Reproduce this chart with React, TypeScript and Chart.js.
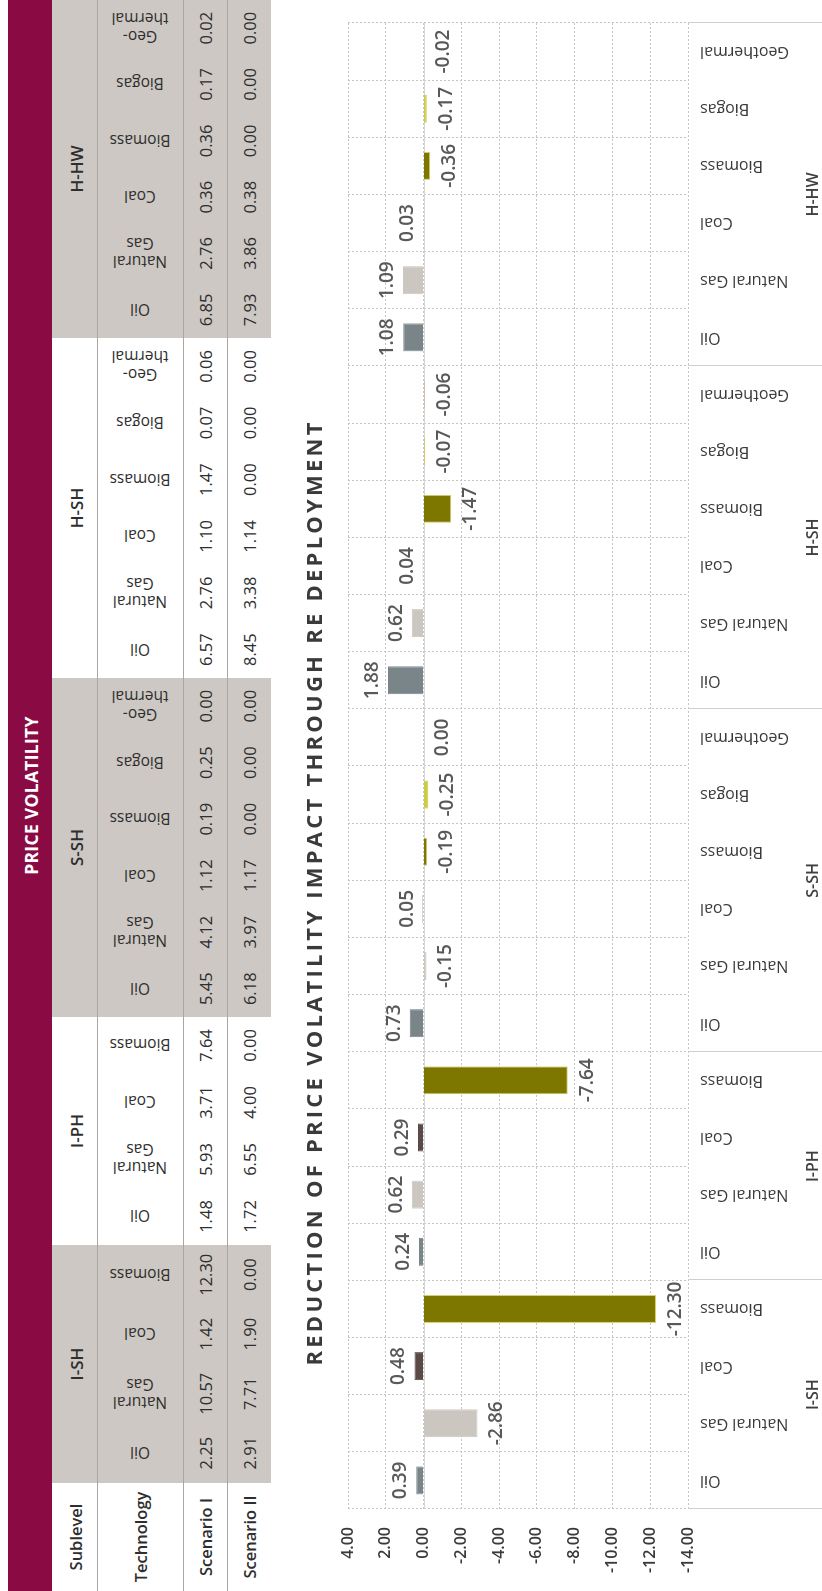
import React, { useEffect, useRef } from "react";
import { Chart, registerables } from "chart.js";

Chart.register(...registerables);

// ---------------- DATA ----------------
const sublevels = ["I-SH", "I-PH", "S-SH", "H-SH", "H-HW"];
const sublevelSizes = [4, 4, 6, 6, 6];

const technologies = [
  "Oil", "Natural Gas", "Coal", "Biomass",
  "Oil", "Natural Gas", "Coal", "Biomass",
  "Oil", "Natural Gas", "Coal", "Biomass", "Biogas", "Geothermal",
  "Oil", "Natural Gas", "Coal", "Biomass", "Biogas", "Geothermal",
  "Oil", "Natural Gas", "Coal", "Biomass", "Biogas", "Geothermal",
];

const tableTechnologies = [
  "Oil", "Natural\nGas", "Coal", "Biomass",
  "Oil", "Natural\nGas", "Coal", "Biomass",
  "Oil", "Natural\nGas", "Coal", "Biomass", "Biogas", "Geo-\nthermal",
  "Oil", "Natural\nGas", "Coal", "Biomass", "Biogas", "Geo-\nthermal",
  "Oil", "Natural\nGas", "Coal", "Biomass", "Biogas", "Geo-\nthermal",
];

const scenarioI = [
  2.25, 10.57, 1.42, 12.3,
  1.48, 5.93, 3.71, 7.64,
  5.45, 4.12, 1.12, 0.19, 0.25, 0.0,
  6.57, 2.76, 1.1, 1.47, 0.07, 0.06,
  6.85, 2.76, 0.36, 0.36, 0.17, 0.02,
];

const scenarioII = [
  2.91, 7.71, 1.9, 0.0,
  1.72, 6.55, 4.0, 0.0,
  6.18, 3.97, 1.17, 0.0, 0.0, 0.0,
  8.45, 3.38, 1.14, 0.0, 0.0, 0.0,
  7.93, 3.86, 0.38, 0.0, 0.0, 0.0,
];

const reduction = [
  0.39, -2.86, 0.48, -12.3,
  0.24, 0.62, 0.29, -7.64,
  0.73, -0.15, 0.05, -0.19, -0.25, 0.0,
  1.88, 0.62, 0.04, -1.47, -0.07, -0.06,
  1.08, 1.09, 0.03, -0.36, -0.17, -0.02,
];

const yMin = -14;
const yMax = 4;
const yStep = 2;

const tableTitle = "PRICE VOLATILITY";
const chartTitle = "REDUCTION OF PRICE VOLATILITY IMPACT THROUGH RE DEPLOYMENT";
const rowLabels = ["Sublevel", "Technology", "Scenario I", "Scenario II"];

// ---------------- STYLE / LAYOUT ----------------
const techColors: Record<string, string> = {
  Oil: "#7a8589",
  "Natural Gas": "#ccc6c0",
  Coal: "#5a4a47",
  Biomass: "#7d7700",
  Biogas: "#cdcb45",
  Geothermal: "#dba67f",
};
const techBorders: Record<string, string> = {
  Oil: "#7a8589",
  "Natural Gas": "#ccc6c0",
  Coal: "#5a4a47",
  Biomass: "#d8d070",
  Biogas: "#cdcb45",
  Geothermal: "#dba67f",
};

const W = 1591; // unrotated width
const H = 822; // unrotated height
const MAROON = "#8a0a44";
const TABLE_GRAY = "#cdc8c3";
const groupEdges = [108, 346, 574, 913, 1253, 1591];
const rowEdges = [52, 97, 183, 227, 271];
const CHART_TOP = 271;
const FONT = '"Open Sans", "DejaVu Sans", sans-serif';

Chart.defaults.font.family = FONT;

function centerText(
  key: string,
  text: string,
  cx: number,
  cy: number,
  style: React.CSSProperties,
  rotate = false
) {
  return (
    <div
      key={key}
      style={{
        position: "absolute",
        left: cx,
        top: cy,
        transform: `translate(-50%, -50%)${rotate ? " rotate(-90deg)" : ""}`,
        whiteSpace: "pre",
        textAlign: "center",
        ...style,
      }}
    >
      {text}
    </div>
  );
}

function Table() {
  const items: React.ReactNode[] = [];
  items.push(
    <div
      key="band"
      style={{ position: "absolute", left: 0, top: 8, width: W, height: rowEdges[0] - 8, background: MAROON }}
    />
  );
  items.push(
    centerText("bandtxt", tableTitle, W / 2, 31, {
      color: "#ffffff",
      fontWeight: 700,
      fontSize: 17.5,
      letterSpacing: 0.3,
    })
  );
  sublevels.forEach((g, gi) => {
    if (gi % 2 === 0) {
      items.push(
        <div
          key={"bg" + gi}
          style={{
            position: "absolute",
            left: groupEdges[gi],
            top: rowEdges[0],
            width: groupEdges[gi + 1] - groupEdges[gi],
            height: rowEdges[4] - rowEdges[0],
            background: TABLE_GRAY,
          }}
        />
      );
    }
  });
  [1, 2, 3].forEach((r) => {
    items.push(
      <div
        key={"line" + r}
        style={{ position: "absolute", left: 0, top: rowEdges[r], width: W, height: 1, background: "#a9a6a3" }}
      />
    );
  });
  rowLabels.forEach((lbl, r) => {
    items.push(
      centerText("rl" + r, lbl, groupEdges[0] / 2, (rowEdges[r] + rowEdges[r + 1]) / 2, {
        fontSize: 16.5,
        fontWeight: 600,
        color: "#2e2e2e",
      })
    );
  });
  let idx = 0;
  sublevels.forEach((g, gi) => {
    const x0 = groupEdges[gi];
    const x1 = groupEdges[gi + 1];
    items.push(
      centerText("g" + gi, g, (x0 + x1) / 2, (rowEdges[0] + rowEdges[1]) / 2 + 1, {
        fontSize: 17,
        fontWeight: 600,
        color: "#2e2e2e",
      })
    );
    const n = sublevelSizes[gi];
    const cw = (x1 - x0) / n;
    for (let k = 0; k < n; k++) {
      const cx = x0 + (k + 0.5) * cw;
      items.push(
        centerText(
          "t" + idx,
          tableTechnologies[idx],
          cx,
          (rowEdges[1] + rowEdges[2]) / 2,
          { fontSize: 15.5, lineHeight: "18px", color: "#2e2e2e" },
          true
        )
      );
      items.push(
        centerText("s1" + idx, scenarioI[idx].toFixed(2), cx, (rowEdges[2] + rowEdges[3]) / 2, {
          fontSize: 16.5,
          fontWeight: 500,
          color: "#2e2e2e",
        })
      );
      items.push(
        centerText("s2" + idx, scenarioII[idx].toFixed(2), cx, (rowEdges[3] + rowEdges[4]) / 2, {
          fontSize: 16.5,
          fontWeight: 500,
          color: "#2e2e2e",
        })
      );
      idx++;
    }
  });
  return <>{items}</>;
}

const decorPlugin = {
  id: "decor",
  beforeDatasetsDraw(chart: any) {
    const { ctx, chartArea, scales } = chart;
    const y0 = scales.y.getPixelForValue(0);
    ctx.save();
    ctx.strokeStyle = "#d6d6d6";
    ctx.lineWidth = 1;
    ctx.beginPath();
    ctx.moveTo(chartArea.left, Math.round(y0) + 0.5);
    ctx.lineTo(chartArea.right, Math.round(y0) + 0.5);
    ctx.stroke();
    ctx.restore();
  },
  afterDatasetsDraw(chart: any) {
    const { ctx } = chart;
    const meta = chart.getDatasetMeta(0);
    const data = chart.data.datasets[0].data as number[];
    ctx.save();
    ctx.font = `600 19px ${FONT}`;
    ctx.fillStyle = "#595959";
    ctx.textAlign = "center";
    meta.data.forEach((bar: any, i: number) => {
      const v = data[i];
      const txt = v.toFixed(2);
      if (v > 0) {
        ctx.textBaseline = "alphabetic";
        ctx.fillText(txt, bar.x, bar.y - 10);
      } else {
        ctx.textBaseline = "top";
        ctx.fillText(txt, bar.x, bar.y + 10);
      }
    });
    ctx.restore();
  },
  afterDraw(chart: any) {
    const { ctx, chartArea, scales, height } = chart;
    const xs = scales.x;
    const edges: number[] = [];
    let start = 0;
    edges.push(chartArea.left);
    sublevelSizes.forEach((n) => {
      start += n;
      if (start < technologies.length) {
        edges.push((xs.getPixelForValue(start - 1) + xs.getPixelForValue(start)) / 2);
      } else {
        edges.push(chartArea.right);
      }
    });
    ctx.save();
    ctx.strokeStyle = "#d0d0d0";
    ctx.lineWidth = 1;
    edges.forEach((e) => {
      const x = Math.round(e) + 0.5;
      ctx.beginPath();
      ctx.moveTo(x, chartArea.bottom);
      ctx.lineTo(x, height);
      ctx.stroke();
    });
    ctx.font = `600 16px ${FONT}`;
    ctx.fillStyle = "#404040";
    ctx.textAlign = "center";
    ctx.textBaseline = "alphabetic";
    sublevels.forEach((g, gi) => {
      ctx.fillText(g, (edges[gi] + edges[gi + 1]) / 2, height - 4);
    });
    // chart title
    ctx.font = `700 22px ${FONT}`;
    ctx.fillStyle = "#3a3a3a";
    ctx.textAlign = "center";
    const natural = ctx.measureText(chartTitle).width;
    const targetWidth = 943;
    const spacing = Math.max(0, (targetWidth - natural) / (chartTitle.length - 1));
    (ctx as any).letterSpacing = `${spacing}px`;
    ctx.fillText(chartTitle, 697 + spacing / 2, 51);
    ctx.restore();
  },
};

function BarChart() {
  const ref = useRef<HTMLCanvasElement | null>(null);
  useEffect(() => {
    if (!ref.current) return;
    const chart = new Chart(ref.current, {
      type: "bar",
      data: {
        labels: technologies,
        datasets: [
          {
            data: reduction,
            backgroundColor: technologies.map((t) => techColors[t]),
            borderColor: technologies.map((t) => techBorders[t]),
            borderWidth: 1,
            barPercentage: 0.49,
            categoryPercentage: 1,
          },
        ],
      },
      options: {
        responsive: false,
        animation: false,
        devicePixelRatio: 1,
        layout: { padding: { top: 77, right: 23, left: 0, bottom: 0 } },
        plugins: {
          legend: { display: false },
          tooltip: { enabled: false },
          title: { display: false },
        },
        scales: {
          x: {
            grid: { color: "#c4c4c4", drawTicks: false, offset: true },
            border: { display: false, dash: [2, 2] },
            ticks: {
              autoSkip: false,
              minRotation: 90,
              maxRotation: 90,
              padding: 12,
              color: "#3a3a3a",
              font: { family: FONT, size: 16 },
            },
            afterFit: (s: any) => {
              s.height = 134;
            },
          },
          y: {
            min: yMin,
            max: yMax,
            grid: { color: "#c4c4c4", drawTicks: false },
            border: { display: false, dash: [2, 2] },
            ticks: {
              stepSize: yStep,
              padding: 18,
              color: "#3a3a3a",
              font: { family: FONT, size: 16, weight: "600" },
              callback: (v: any) => Number(v).toFixed(2),
            },
            afterFit: (s: any) => {
              s.width = 82;
            },
          },
        },
      } as any,
      plugins: [decorPlugin],
    });
    return () => chart.destroy();
  }, []);
  return (
    <div style={{ position: "absolute", left: 0, top: CHART_TOP, width: W, height: H - CHART_TOP }}>
      <canvas ref={ref} width={W} height={H - CHART_TOP} style={{ display: "block" }} />
    </div>
  );
}

export default function App() {
  useEffect(() => {
    document.body.style.margin = "0";
    document.body.style.overflow = "hidden";
  }, []);
  return (
    <div
      style={{
        position: "absolute",
        left: 0,
        top: 0,
        width: W,
        height: H,
        background: "#ffffff",
        transformOrigin: "0 0",
        transform: `translate(0px, ${W}px) rotate(-90deg)`,
        fontFamily: FONT,
        overflow: "hidden",
      }}
    >
      <Table />
      <BarChart />
    </div>
  );
}
